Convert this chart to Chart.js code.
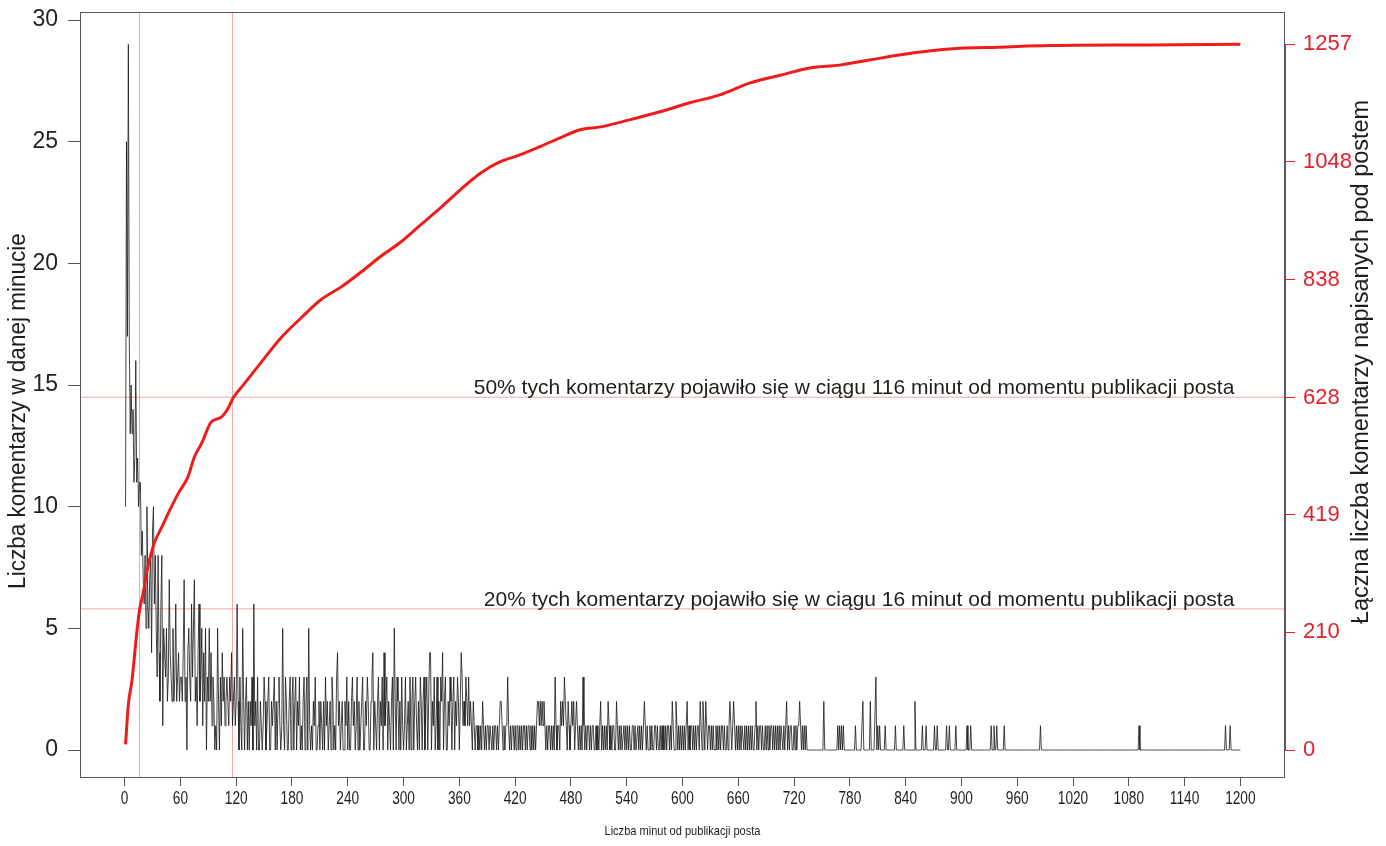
<!doctype html>
<html lang="pl">
<head>
<meta charset="UTF-8" />
<title>Komentarze pod postem</title>
<script src="https://cdn.jsdelivr.net/npm/chart.js"></script>
<style>
  html, body { margin: 0; padding: 0; background: #fff; }
  canvas { display: block; }
</style>
</head>
<body>
<canvas id="komentarzeChart" width="1386" height="846"></canvas>
<script>
// liczba komentarzy w kolejnych minutach (minuta 1 .. 1200), po 60 minut w bloku
const komentarzeNaMinute = [
  // 1-60
  10,25,17,29,17,13,15,13,14,11, 12,16,11,12,10,11,11,8,9,7, 6,8,5,10,6,5,7,8,4,9,
  10,6,8,5,3,8,4,2,6,8, 1,5,4,3,5,2,3,7,4,3, 2,5,2,3,6,2,3,4,2,3,
  // 61-120
  3,2,4,7,2,3,0,4,5,3, 2,6,3,5,7,2,3,1,4,6, 2,3,5,1,4,2,5,0,3,2,
  5,2,4,1,3,2,0,1,0,5, 2,0,3,1,4,2,3,1,2,3, 2,1,3,2,4,1,2,3,1,2,
  // 121-180
  6,2,0,3,1,0,5,2,0,2, 3,0,2,0,2,1,3,0,6,1, 2,0,3,0,0,2,1,0,1,3,
  2,0,1,2,3,0,0,2,1,2, 3,0,2,0,2,3,1,0,1,5, 1,0,3,2,0,0,2,3,0,2,
  // 181-240
  3,0,2,3,0,2,1,3,0,1, 0,2,3,0,2,3,0,5,1,0, 1,0,2,1,3,0,0,1,2,0,
  2,1,0,2,0,3,1,2,0,1, 2,0,3,2,0,1,0,3,4,1, 2,0,1,2,0,0,2,1,3,0,
  // 241-300
  2,0,0,2,3,1,2,0,1,3, 0,2,0,1,2,3,0,0,2,1, 3,2,0,0,2,3,4,0,2,1,
  0,2,3,0,2,1,3,0,4,1, 2,3,0,2,1,0,2,3,0,5, 2,0,3,2,0,2,0,3,1,0,
  // 301-360
  1,3,0,1,2,0,3,0,2,3, 0,2,3,1,0,2,0,3,2,0, 2,3,0,2,3,0,2,4,4,0,
  2,1,3,0,1,3,0,2,0,3, 2,4,0,2,3,0,0,2,1,3, 2,0,2,3,0,2,1,3,2,0,
  // 361-420
  2,4,3,1,2,1,3,2,1,3, 1,2,1,0,2,1,0,1,1,0, 1,0,1,0,2,1,0,1,0,1,
  1,0,1,1,0,1,0,1,1,0, 1,0,1,2,2,1,0,1,0,1, 1,3,1,0,1,0,1,1,0,1,
  // 421-480
  0,1,1,0,1,0,1,0,1,1, 0,1,0,1,1,0,1,0,1,0, 1,0,1,2,2,1,2,1,2,1,
  2,1,0,1,0,1,1,0,1,0, 1,0,3,1,0,1,1,0,2,1, 2,1,3,2,1,0,2,1,0,1,
  // 481-540
  2,1,2,0,1,2,1,0,1,0, 1,0,3,1,0,1,0,1,1,0, 1,0,1,1,0,0,1,0,1,0,
  1,2,0,1,0,1,0,1,0,2, 1,0,1,0,1,1,0,0,2,1, 0,1,0,1,0,0,1,0,1,0,
  // 541-600
  1,0,1,0,0,1,1,0,1,0, 0,1,0,1,0,1,0,1,2,1, 0,1,0,0,1,0,1,0,0,1,
  1,0,1,0,0,1,0,1,0,1, 0,1,0,1,1,0,1,0,2,1, 0,0,2,1,0,1,0,1,0,1,
  // 601-660
  0,1,0,1,2,0,1,0,1,1, 0,1,0,1,0,1,1,0,2,1, 0,2,1,0,2,1,0,1,1,0,
  1,0,1,0,0,1,0,1,0,1, 0,1,1,0,1,0,0,1,0,1, 2,1,0,1,2,1,0,1,0,1,
  // 661-720
  0,1,0,1,1,0,1,0,1,0, 1,0,1,0,1,0,0,1,2,0, 1,0,1,1,0,1,0,0,1,0,
  1,0,1,0,1,1,0,1,0,1, 0,1,0,1,0,1,1,0,1,0, 1,2,0,1,0,1,1,0,0,1,
  // 721-780
  0,1,0,1,1,2,1,0,1,0, 1,0,1,0,0,0,0,0,0,0, 0,0,0,0,0,0,0,0,0,0,
  0,2,0,0,0,0,0,0,0,0, 0,0,0,0,0,0,1,0,1,0, 1,0,1,0,0,0,0,0,0,0,
  // 781-840
  0,0,0,0,0,1,0,0,0,0, 0,0,0,2,0,0,0,0,0,0, 0,2,0,0,0,0,0,3,0,1,
  0,1,0,0,0,0,0,1,0,0, 0,0,0,0,0,0,0,0,1,0, 0,0,0,0,0,0,0,1,0,0,
  // 841-900
  0,0,0,0,0,0,0,0,0,2, 0,0,0,0,0,0,0,1,0,0, 0,1,0,0,0,0,0,0,0,0,
  1,0,0,1,0,0,0,0,0,0, 0,0,0,1,0,0,1,0,0,0, 0,0,0,1,0,0,0,0,0,0,
  // 901-960
  0,0,0,0,0,1,0,0,0,1, 0,0,0,0,0,0,0,0,0,0, 0,0,0,0,0,0,0,0,0,0,
  0,1,0,0,1,0,0,1,0,0, 0,0,0,0,0,1,0,0,0,0, 0,0,0,0,0,0,0,0,0,0,
  // 961-1020
  0,0,0,0,0,0,0,0,0,0, 0,0,0,0,0,0,0,0,0,0, 0,0,0,0,1,0,0,0,0,0,
  0,0,0,0,0,0,0,0,0,0, 0,0,0,0,0,0,0,0,0,0, 0,0,0,0,0,0,0,0,0,0,
  // 1021-1080
  0,0,0,0,0,0,0,0,0,0, 0,0,0,0,0,0,0,0,0,0, 0,0,0,0,0,0,0,0,0,0,
  0,0,0,0,0,0,0,0,0,0, 0,0,0,0,0,0,0,0,0,0, 0,0,0,0,0,0,0,0,0,0,
  // 1081-1140
  0,0,0,0,0,0,0,0,0,0, 1,0,0,0,0,0,0,0,0,0, 0,0,0,0,0,0,0,0,0,0,
  0,0,0,0,0,0,0,0,0,0, 0,0,0,0,0,0,0,0,0,0, 0,0,0,0,0,0,0,0,0,0,
  // 1141-1200
  0,0,0,0,0,0,0,0,0,0, 0,0,0,0,0,0,0,0,0,0, 0,0,0,0,0,0,0,0,0,0,
  0,0,0,0,0,0,0,0,0,0, 0,0,0,1,0,0,0,0,1,0, 0,0,0,0,0,0,0,0,0,0
];

const minutyLacznie = [1, 2, 4, 8, 13, 16, 20, 25, 32, 40, 47, 58, 68, 75, 83, 93, 104, 111, 117,
  129, 147, 168, 190, 211, 233, 254, 276, 297, 318, 340, 361, 383, 404, 425, 447, 469, 490,
  512, 544, 576, 608, 640, 672, 705, 737, 769, 801, 833, 865, 898, 940, 994, 1101, 1200];
const komentarzeLacznie = [10, 35, 81, 125, 208, 249, 280, 326, 369, 397, 422, 458, 486, 522, 547, 584, 593, 608, 628,
  653, 691, 734, 770, 802, 825, 851, 880, 905, 935, 966, 998, 1028, 1048, 1060, 1075, 1091, 1105,
  1110, 1123, 1137, 1153, 1167, 1188, 1202, 1215, 1220, 1229, 1238, 1245, 1250, 1252, 1255, 1256, 1257];

const xTicks = [0, 60, 120, 180, 240, 300, 360, 420, 480, 540, 600, 660, 720, 780, 840, 900, 960, 1020, 1080, 1140, 1200];
const lewyTicks = [0, 5, 10, 15, 20, 25, 30];
const prawyTicks = [0, 210, 419, 628, 838, 1048, 1257];

const sumaKomentarzy = 1257;
const maxNaMinute = 29;
const progiUdzialu = [0.2, 0.5];
const progiMinut = [16, 116];
const opisyProgow = [
  "20% tych komentarzy pojawiło się w ciągu 16 minut od momentu publikacji posta",
  "50% tych komentarzy pojawiło się w ciągu 116 minut od momentu publikacji posta"
];

const czerwony = "#ee1c1c";
const czerwonyTekst = "#e3202b";
const rozowy = "#f3a6a6";
const czcionka = "'Liberation Sans', Arial, sans-serif";

// zakresy osi (jak w R: +/- 4%)
const xMin = -48, xMax = 1248;
const yMin = -1.15, yMax = 30.33;
const skala = sumaKomentarzy / maxNaMinute;

function napis(ctx, tekst, x, y, o) {
  ctx.save();
  ctx.translate(x, y);
  if (o.rot) ctx.rotate(o.rot);
  ctx.scale(o.sx || 1, 1);
  ctx.font = o.size + "px " + czcionka;
  ctx.fillStyle = o.color || "#1e1e1e";
  ctx.textAlign = o.align || "center";
  ctx.textBaseline = o.base || "middle";
  ctx.fillText(tekst, 0, 0);
  ctx.restore();
}

const ramka = {
  id: "ramka",
  afterDraw(chart) {
    const { ctx, chartArea: a, scales } = chart;
    const x = scales.x, y2 = scales.y2;
    ctx.save();
    ctx.strokeStyle = "#5a5a5a";
    ctx.lineWidth = 1;
    ctx.strokeRect(a.left + 0.5, a.top + 0.5, a.width - 1, a.height - 1);
    ctx.strokeStyle = czerwony;
    ctx.beginPath();
    ctx.moveTo(a.right + 0.5, y2.getPixelForValue(prawyTicks[0]));
    ctx.lineTo(a.right + 0.5, y2.getPixelForValue(prawyTicks[prawyTicks.length - 1]));
    ctx.stroke();
    ctx.restore();

    xTicks.forEach((v) => napis(ctx, String(v), x.getPixelForValue(v), 799, { size: 19, sx: 0.72 }));

    progiUdzialu.forEach((p, i) => {
      napis(ctx, opisyProgow[i], x.getPixelForValue(1200) - 6, y2.getPixelForValue(p * sumaKomentarzy) - 3,
        { size: 21, align: "right", base: "alphabetic" });
    });

    napis(ctx, "Liczba komentarzy w danej minucie", 19, 411, { size: 23, rot: -Math.PI / 2, sx: 0.98 });
    napis(ctx, "Łączna liczba komentarzy napisanych pod postem", 1362, 362, { size: 23, rot: -Math.PI / 2, sx: 1.02 });
    napis(ctx, "Liczba minut od publikacji posta", (a.left + a.right) / 2, 831, { size: 13, sx: 0.85 });
  }
};

const liniaPozioma = (p) => [{ x: xMin, y: p * sumaKomentarzy }, { x: xMax, y: p * sumaKomentarzy }];
const liniaPionowa = (m) => [{ x: m, y: yMin * skala }, { x: m, y: yMax * skala }];
const bezMarginesu = (s) => { s.paddingTop = 0; s.paddingBottom = 0; };

const ctx = document.getElementById("komentarzeChart").getContext("2d");
new Chart(ctx, {
  type: "line",
  data: {
    datasets: [
      {
        label: "Łącznie",
        data: minutyLacznie.map((m, i) => ({ x: m, y: komentarzeLacznie[i] })),
        yAxisID: "y2",
        borderColor: czerwony,
        borderWidth: 3,
        pointRadius: 0,
        cubicInterpolationMode: "monotone"
      },
      {
        label: "Na minutę",
        data: komentarzeNaMinute.map((v, i) => ({ x: i + 1, y: v })),
        yAxisID: "y",
        borderColor: "rgba(25,25,25,0.8)",
        borderWidth: 1,
        pointRadius: 0,
        tension: 0
      },
      ...progiUdzialu.map((p) => ({
        data: liniaPozioma(p), yAxisID: "y2", borderColor: rozowy, borderWidth: 1, pointRadius: 0
      })),
      ...progiMinut.map((m) => ({
        data: liniaPionowa(m), yAxisID: "y2", borderColor: rozowy, borderWidth: 1, pointRadius: 0
      }))
    ]
  },
  options: {
    responsive: false,
    animation: false,
    devicePixelRatio: 1,
    layout: { padding: { top: 12, left: 0, right: 0, bottom: 0 } },
    plugins: { legend: { display: false }, tooltip: { enabled: false } },
    scales: {
      x: {
        type: "linear",
        min: xMin,
        max: xMax,
        afterBuildTicks: (s) => { s.ticks = xTicks.map((v) => ({ value: v })); },
        afterFit: (s) => { s.height = 68; s.paddingLeft = 0; s.paddingRight = 0; },
        ticks: { display: false },
        grid: { drawOnChartArea: false, drawTicks: true, tickLength: 8, color: "#555" },
        border: { display: false }
      },
      y: {
        position: "left",
        min: yMin,
        max: yMax,
        afterBuildTicks: (s) => { s.ticks = lewyTicks.map((v) => ({ value: v })); },
        afterFit: (s) => { s.width = 80; bezMarginesu(s); },
        ticks: { font: { family: czcionka, size: 23 }, color: "#222", padding: 10, callback: (v) => String(v) },
        grid: { drawOnChartArea: false, drawTicks: true, tickLength: 12, color: "#555" },
        border: { display: false }
      },
      y2: {
        position: "right",
        min: yMin * skala,
        max: yMax * skala,
        afterBuildTicks: (s) => { s.ticks = prawyTicks.map((v) => ({ value: v })); },
        afterFit: (s) => { s.width = 101; bezMarginesu(s); },
        ticks: { font: { family: czcionka, size: 22 }, color: czerwonyTekst, padding: 8, callback: (v) => String(v) },
        grid: { drawOnChartArea: false, drawTicks: true, tickLength: 10, color: czerwony },
        border: { display: false }
      }
    }
  },
  plugins: [ramka]
});
</script>
</body>
</html>
